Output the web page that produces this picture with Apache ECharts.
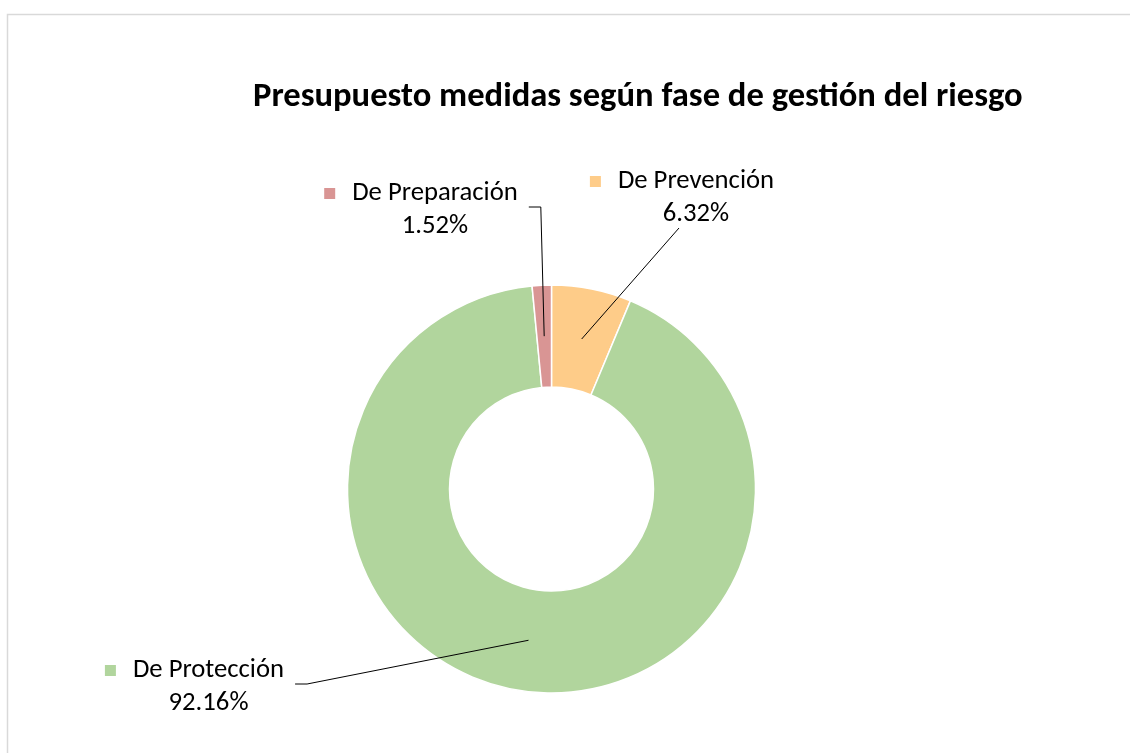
<!DOCTYPE html>
<html>
<head>
<meta charset="utf-8">
<script src="https://cdn.jsdelivr.net/npm/echarts@6/dist/echarts.min.js"></script>
<style>
  html, body { margin: 0; padding: 0; background: #ffffff; }
  #chart { width: 1130px; height: 753px; }
</style>
</head>
<body>
<div id="chart"></div>
<script>
// Budget share per risk-management phase (percent)
const categories = ['De Prevención', 'De Protección', 'De Preparación'];
const shares = [6.32, 92.16, 1.52];
const colors = ['#FECC89', '#B1D59D', '#D99594'];
const titleText = 'Presupuesto medidas según fase de gestión del riesgo';

const FONT = 'Carlito, Lato, "Open Sans", sans-serif';
const CENTER = [551.5, 489];
const R_IN = 102, R_OUT = 204;
const R_MID = (R_IN + R_OUT) / 2;

// Centre of each label block and where its leader attaches
const labelPlacement = [
  { cx: 682,   cy: 198, side: 'below' },  // De Prevención
  { cx: 194.5, cy: 687, side: 'right' },  // De Protección
  { cx: 421,   cy: 210, side: 'right' }   // De Preparación
];

const richFor = (color) => ({
  m: { width: 11, height: 11, backgroundColor: color, verticalAlign: 'middle' },
  g: { width: 17 },
  p: { width: 28 },
  n: { fontFamily: FONT, fontSize: 26.7, color: '#000', lineHeight: 33 },
  v: { fontFamily: FONT, fontSize: 26.7, color: '#000', lineHeight: 33 }
});

// Visible ring
const ringData = categories.map((name, i) => ({
  name: name,
  value: shares[i],
  itemStyle: { color: colors[i] }
}));

// Same slices, unfilled, carrying the labels and leaders on a higher layer
const labelData = categories.map((name, i) => ({
  name: name,
  value: shares[i],
  itemStyle: { color: 'rgba(0,0,0,0)' },
  label: { rich: richFor(colors[i]) }
}));

const chart = echarts.init(document.getElementById('chart'), null, { renderer: 'canvas' });

chart.setOption({
  backgroundColor: '#ffffff',
  animation: false,
  title: {
    text: titleText,
    left: 253,
    top: 80,
    padding: 0,
    textStyle: { fontFamily: FONT, fontWeight: 'bold', fontSize: 34.6, color: '#000' }
  },
  graphic: [{
    type: 'rect',
    silent: true,
    shape: { x: 7.5, y: 14.5, width: 1300, height: 900 },
    style: { fill: 'none', stroke: '#d9d9d9', lineWidth: 1.5 }
  }],
  series: [{
    type: 'pie',
    z: 2,
    center: CENTER,
    radius: [R_IN, R_OUT],
    startAngle: 90,
    clockwise: true,
    itemStyle: { borderColor: '#ffffff', borderWidth: 1.5 },
    emphasis: { disabled: true },
    label: { show: false },
    labelLine: { show: false },
    data: ringData
  }, {
    type: 'pie',
    z: 3,
    silent: true,
    center: CENTER,
    radius: [R_IN, R_OUT],
    startAngle: 90,
    clockwise: true,
    avoidLabelOverlap: false,
    itemStyle: { borderWidth: 0 },
    emphasis: { disabled: true },
    label: {
      show: true,
      position: 'outside',
      formatter: (p) => '{m|}{g|}{n|' + p.name + '}\n{p|}{v|' + p.value.toFixed(2) + '%}'
    },
    labelLine: {
      show: true,
      showAbove: true,
      length: 10,
      length2: 10,
      lineStyle: { color: '#000000', width: 1, opacity: 1 }
    },
    labelLayout: (params) => {
      const pl = labelPlacement[params.dataIndex];
      const w = params.labelRect.width;
      const h = params.labelRect.height;
      // Leader starts in the middle of the ring, on the slice's mid-angle
      const p0 = params.labelLinePoints[0];
      const dx = p0[0] - CENTER[0], dy = p0[1] - CENTER[1];
      const len = Math.sqrt(dx * dx + dy * dy);
      const start = [CENTER[0] + dx / len * R_MID, CENTER[1] + dy / len * R_MID];
      let pts;
      if (pl.side === 'right') {
        const right = pl.cx + w / 2;
        pts = [start, [right + 23, pl.cy - 3], [right + 11, pl.cy - 3]];
      } else {
        const end = [pl.cx - 3, pl.cy + h / 2];
        pts = [start, end, end];
      }
      return {
        x: pl.cx,
        y: pl.cy,
        align: 'center',
        verticalAlign: 'middle',
        labelLinePoints: pts
      };
    },
    data: labelData
  }]
});
</script>
</body>
</html>
